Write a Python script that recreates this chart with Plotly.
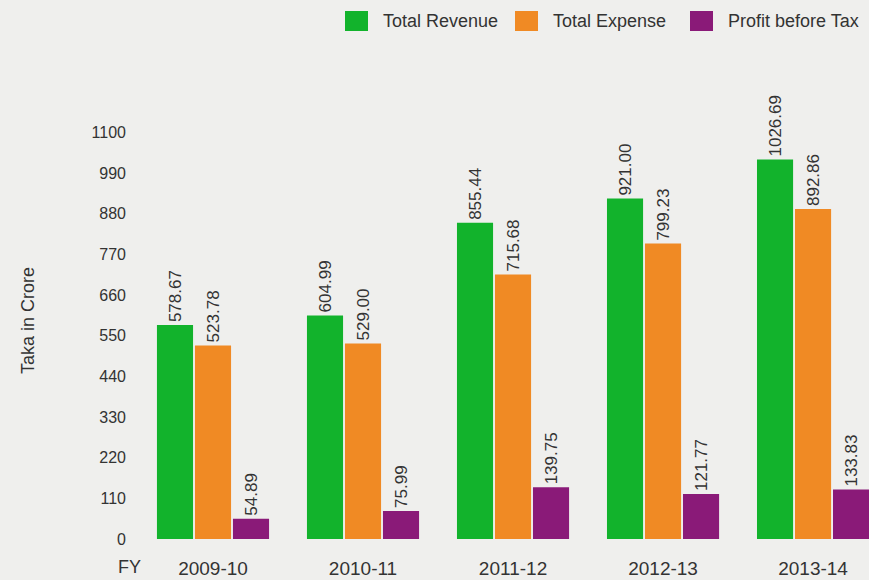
import plotly.graph_objects as go

years = ["2009-10", "2010-11", "2011-12", "2012-13", "2013-14"]
revenue = [578.67, 604.99, 855.44, 921.00, 1026.69]
expense = [523.78, 529.00, 715.68, 799.23, 892.86]
profit = [54.89, 75.99, 139.75, 121.77, 133.83]
yticks = [0, 110, 220, 330, 440, 550, 660, 770, 880, 990, 1100]
series_names = ["Total Revenue", "Total Expense", "Profit before Tax"]
series_colors = ["#12b32c", "#f08a24", "#8a1a78"]

L, T, B, W, H = 138, 77, 41, 869, 580
PW, PH = W - L, H - T - B
FONT = "Liberation Sans, Arial"
TXT = "#333333"

def px(x):
    return (x - L) / PW

def py(y):
    return (H - B - y) / PH

fig = go.Figure()
for name, vals, col in zip(series_names, [revenue, expense, profit], series_colors):
    fig.add_trace(go.Bar(
        name=name, x=years, y=vals,
        marker=dict(color=col, line=dict(width=0)),
        text=[f"{v:.2f}" for v in vals],
        textposition="outside", textangle=-90, constraintext="none",
        textfont=dict(family=FONT, size=17, color=TXT),
        cliponaxis=False, showlegend=False,
    ))

# legend drawn as shapes + text
leg_x = [345, 515, 690]
for name, col, x0 in zip(series_names, series_colors, leg_x):
    fig.add_shape(type="rect", xref="paper", yref="paper",
                  x0=px(x0), x1=px(x0 + 23), y0=py(31), y1=py(11),
                  fillcolor=col, line=dict(width=0))
    fig.add_annotation(text=name, xref="paper", yref="paper",
                       x=px(x0 + 36), y=py(21), xanchor="left", yanchor="middle",
                       showarrow=False, font=dict(family=FONT, size=18, color=TXT))

fig.update_layout(
    width=W, height=H,
    margin=dict(l=L, r=0, t=T, b=B),
    paper_bgcolor="#efefed", plot_bgcolor="#efefed",
    barmode="group", bargap=0.24, bargroupgap=0.05,
    font=dict(family=FONT, size=16, color=TXT),
    xaxis=dict(type="category", range=[-0.5, 4.373], showgrid=False, showline=False,
               zeroline=False, ticks="", ticklabelstandoff=16,
               tickfont=dict(family=FONT, size=19, color=TXT)),
    yaxis=dict(range=[0, 1250], tickvals=yticks, showgrid=False, showline=False,
               zeroline=False, ticks="", tickfont=dict(family=FONT, size=16, color=TXT),
               ticklabelstandoff=11),
)
fig.add_annotation(text="Taka in Crore", xref="paper", yref="paper", x=px(28), y=py(321),
                   xanchor="center", yanchor="middle", textangle=-90, showarrow=False,
                   font=dict(family=FONT, size=18, color=TXT))
fig.add_annotation(text="FY", xref="paper", yref="paper", x=px(129), y=py(567),
                   xanchor="center", yanchor="middle", showarrow=False,
                   font=dict(family=FONT, size=18, color=TXT))
fig.write_html("out.html", config={"displayModeBar": False},
               post_script="document.body.style.margin='0';")
